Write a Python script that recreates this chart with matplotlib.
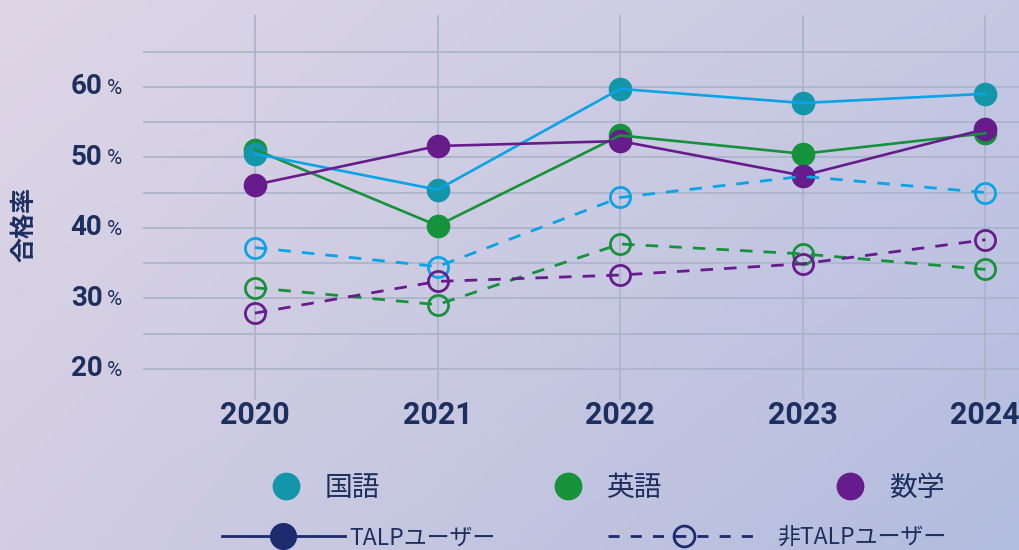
import numpy as np
import matplotlib
matplotlib.use("Agg")
import matplotlib.pyplot as plt
from matplotlib.lines import Line2D

plt.rcParams['font.family'] = ['Noto Sans CJK JP', 'DejaVu Sans']

# データ
years = ['2020', '2021', '2022', '2023', '2024']
subjects = ['国語', '英語', '数学']
talp = {
    '国語': [50.5, 45.4, 59.7, 57.7, 59.0],
    '英語': [51.1, 40.3, 53.1, 50.5, 53.4],
    '数学': [46.1, 51.6, 52.3, 47.4, 54.0],
}
non_talp = {
    '国語': [37.2, 34.5, 44.3, 47.3, 45.0],
    '英語': [31.5, 29.1, 37.7, 36.3, 34.1],
    '数学': [27.9, 32.4, 33.3, 34.9, 38.3],
}
ytick_vals = [20, 30, 40, 50, 60]

line_colors = {'国語': '#0aa3e6', '英語': '#17923c', '数学': '#671c8c'}
marker_colors = {'国語': '#1496aa', '英語': '#17923c', '数学': '#671c8c'}
navy = '#1d2f5f'
num_font = ['Roboto', 'DejaVu Sans']

fig = plt.figure(figsize=(10.2, 5.5), dpi=100)

# 背景グラデーション
bg = fig.add_axes([0, 0, 1, 1], zorder=-10)
tl = np.array([222, 214, 230]) / 255
tr = np.array([198, 200, 227]) / 255
bl = np.array([210, 205, 226]) / 255
br = np.array([178, 188, 222]) / 255
u = np.linspace(0, 1, 200)[None, :, None]
v = np.linspace(0, 1, 120)[:, None, None]
img = (1 - v) * ((1 - u) * tl + u * tr) + v * ((1 - u) * bl + u * br)
bg.imshow(img, aspect='auto', extent=[0, 1, 0, 1])
bg.axis('off')

ax = fig.add_axes([0.140, 0.273, 0.860, 0.700])
ax.patch.set_alpha(0)
x = np.arange(len(years))

# マーカー（線の下）
for s in ['英語', '国語', '数学']:
    ax.plot(x, non_talp[s], linestyle='none', marker='o', ms=14.5,
            markerfacecolor='none', markeredgecolor=line_colors[s],
            markeredgewidth=2, zorder=3)
for s in ['英語', '国語', '数学']:
    ax.plot(x, talp[s], linestyle='none', marker='o', ms=16,
            color=marker_colors[s], zorder=4)
# 線
for s in ['英語', '国語', '数学']:
    ax.plot(x, non_talp[s], linestyle=(0, (4.5, 4)), lw=2, color=line_colors[s], zorder=5)
    ax.plot(x, talp[s], lw=1.9, color=line_colors[s], zorder=6)

ax.set_xlim(-0.614, 4.19)
ax.set_ylim(15.6, 70.2)
ax.set_xticks(x)
ax.set_xticklabels(years, fontsize=22, fontweight='bold', color=navy, family=num_font)
ax.set_yticks(np.arange(20, 70, 5))
ax.set_yticklabels([])
ax.tick_params(length=0, pad=0)
ax.grid(True, color='#a9b3c9', lw=1.2)
for sp in ax.spines.values():
    sp.set_visible(False)

ytrans = ax.get_yaxis_transform()
for val in ytick_vals:
    ax.text(-0.046, val, str(val), transform=ytrans, ha='right', va='center',
            fontsize=20, fontweight='bold', color=navy, family=num_font)
    ax.text(-0.041, val - 0.2, '%', transform=ytrans, ha='left', va='center',
            fontsize=15, color=navy, family=num_font)

ax.text(-0.135, 0.455, '合格率', transform=ax.transAxes, rotation=90, ha='center',
        va='center', fontsize=18, fontweight='bold', color=navy)

# 凡例
h1 = [Line2D([], [], linestyle='none', marker='o', ms=19, color=marker_colors[s])
      for s in subjects]
fig.legend(h1, subjects, ncol=3, loc='center left', bbox_to_anchor=(0.2667, 0.1127),
           frameon=False, fontsize=20, handlelength=1, handletextpad=0.9,
           columnspacing=6.25, labelcolor=navy, borderpad=0, borderaxespad=0)
h_solid = [Line2D([], [], color='#1c2a6e', lw=2, marker='o', ms=18.5)]
fig.legend(h_solid, ['TALPユーザー'], loc='center left', bbox_to_anchor=(0.2176, 0.022),
           frameon=False, fontsize=16.5, handlelength=5.37, handletextpad=0.2,
           labelcolor=navy, borderpad=0, borderaxespad=0)
h_dash = [Line2D([], [], color='#1c2a6e', lw=2, linestyle=(0, (4, 4)), marker='o',
                 ms=15, markerfacecolor='none', markeredgewidth=2)]
fig.legend(h_dash, ['非TALPユーザー'], loc='center left', bbox_to_anchor=(0.596, 0.022),
           frameon=False, fontsize=16.5, handlelength=6.64, handletextpad=0.74,
           labelcolor=navy, borderpad=0, borderaxespad=0)

fig.savefig('out.png', dpi=100)
